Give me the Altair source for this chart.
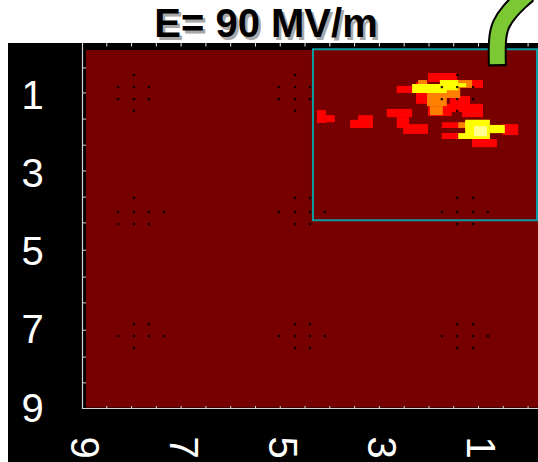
import altair as alt
import pandas as pd

# ---------------- data ----------------
title_text = "E= 90 MV/m"

x_label_values = [1, 3, 5, 7, 9]
y_label_values = [1, 3, 5, 7, 9]

x_minor_ticks = [0.0, 0.5, 1.0, 1.5, 2.0, 2.5, 3.0, 3.5, 4.0, 4.5,
                 5.0, 5.5, 6.0, 6.5, 7.0, 7.5, 8.0, 8.5]
y_minor_ticks = [0.26, 0.90, 1.57, 2.24, 2.90, 3.57, 4.23, 4.93,
                 5.62, 6.28, 6.98, 7.67, 8.33]

# extent of the image matrix (background value)
matrix_x = [8.92, -0.2]
matrix_y = [-0.2, 8.96]

# hot regions of the map: x1, x2, y1, y2, level (1 red, 2 orange, 3 yellow, 4 pale yellow)
blob_x1 = [2.02, 2.65, 2.26, 2.02, 1.58, 1.33, 1.17, 1.74, 1.74, 0.51, 1.13,
           4.26, 4.08, 3.43, 3.59, 2.85, 2.65, 2.52,
           2.22, 2.04, 1.98, 1.48, 1.68, 1.41,
           2.34, 1.78, 1.41, 1.27, 1.41, 0.77,
           1.09]
blob_x2 = [1.43, 2.34, 2.02, 1.54, 1.17, 0.91, 0.91, 1.41, 1.41, 0.20, 0.63,
           4.08, 3.90, 3.13, 3.13, 2.34, 2.40, 2.02,
           2.04, 1.64, 1.72, 1.13, 1.37, 1.25,
           1.64, 1.41, 1.25, 0.77, 1.25, 0.47,
           0.83]
blob_y1 = [0.39, 0.72, 0.62, 1.18, 0.98, 1.18, 0.57, 1.65, 1.93, 1.70, 2.08,
           1.34, 1.47, 1.47, 1.59, 1.31, 1.52, 1.70,
           0.57, 0.88, 1.24, 0.57, 0.77, 1.65,
           0.67, 0.57, 0.65, 1.59, 1.93, 1.72,
           1.75]
blob_y2 = [0.62, 0.90, 1.18, 1.49, 1.39, 1.52, 0.77, 1.80, 2.08, 1.98, 2.29,
           1.67, 1.65, 1.62, 1.80, 1.52, 1.80, 1.95,
           0.72, 1.24, 1.47, 0.77, 1.03, 1.80,
           0.90, 0.83, 0.75, 2.08, 2.08, 1.93,
           2.01]
blob_level = [1] * 18 + [2] * 6 + [3] * 6 + [4]

# marker dots (groups of cross-like patterns)
dot_col_groups = [[8.27, 7.95, 7.65, 7.35], [5.03, 4.70, 4.40, 4.10], [1.74, 1.43, 1.11, 0.81]]
dot_row_groups = [[0.44, 0.75, 1.06, 1.36], [3.59, 3.95, 4.26], [6.83, 7.13, 7.44]]
dot_patterns = [
    [[[1], [0, 1, 2], [0, 1, 2], [1]]] * 3,
    [[[1], [0, 1, 2, 3], [0, 1, 2]], [[1, 2], [0, 1, 2, 3], [1, 2]], [[1, 2], [0, 1, 2, 3], [1, 2]]],
    [[[1, 2], [0, 1, 2, 3], [1]], [[1, 2], [0, 1, 2, 3], [1, 2]], [[1, 2], [0, 1, 2, 3], [1, 2]]],
]

# zoom box
box_x = [4.34, -0.18]
box_y = [-0.22, 4.16]

# curved arrow (centre line)
arrow_x = [0.62, 0.63, 0.56, 0.38, 0.15, 0.00]
arrow_y = [0.16, -0.48, -0.87, -1.19, -1.48, -1.64]
arrow_outline_y = [0.22, -0.48, -0.87, -1.19, -1.48, -1.64]

# ---------------- tables ----------------
blobs = pd.DataFrame({"x1": blob_x1, "x2": blob_x2, "y1": blob_y1, "y2": blob_y2, "level": blob_level})
dots_rows = []
for rg, rows in enumerate(dot_row_groups):
    for cg, cols in enumerate(dot_col_groups):
        pat = dot_patterns[rg][cg]
        for ri, yv in enumerate(rows):
            for ci in pat[ri]:
                dots_rows.append({"x": cols[ci], "y": yv})
dots = pd.DataFrame(dots_rows)
matrix = pd.DataFrame({"x1": [matrix_x[0]], "x2": [matrix_x[1]], "y1": [matrix_y[0]], "y2": [matrix_y[1]]})
box = pd.DataFrame({"x1": [box_x[0]], "x2": [box_x[1]], "y1": [box_y[0]], "y2": [box_y[1]]})
arrow = pd.DataFrame({"i": list(range(len(arrow_x))), "x": arrow_x, "y": arrow_y})
arrow_o = pd.DataFrame({"i": list(range(len(arrow_x))), "x": arrow_x, "y": arrow_outline_y})
xt = pd.DataFrame({"x": x_minor_ticks})
yt = pd.DataFrame({"y": y_minor_ticks})
one = pd.DataFrame({"t": [title_text]})

# ---------------- scales / axes ----------------
FONT = "Liberation Sans"
xs = alt.Scale(domain=[-0.2, 9], reverse=True, nice=False, zero=False)
ys = alt.Scale(domain=[-0.2, 9], reverse=True, nice=False, zero=False)
xa = alt.Axis(values=x_label_values, labelAngle=90, labelAlign="left", labelBaseline="middle",
              labelPadding=27, labelFontSize=40, labelColor="white", labelFont=FONT,
              domain=False, ticks=False, tickSize=0, grid=False, title=None,
              labelFlush=False, labelOverlap=False, labelBound=False, zindex=1)
ya = alt.Axis(values=y_label_values, labelAlign="center", labelBaseline="middle",
              labelPadding=50, labelFontSize=40, labelColor="white", labelFont=FONT,
              domain=False, ticks=False, tickSize=0, grid=False, title=None,
              labelFlush=False, labelOverlap=False, labelBound=False, zindex=1)

def X(f):
    return alt.X(f, type="quantitative", scale=xs, axis=xa)

def Y(f):
    return alt.Y(f, type="quantitative", scale=ys, axis=ya)

W, H = 456, 359

black_bg = alt.Chart(one).mark_rect(color="black").encode(
    x=alt.value(-74), x2=alt.value(W), y=alt.value(-7), y2=alt.value(H + 53))

matrix_l = alt.Chart(matrix).mark_rect(color="#760000").encode(
    x=X("x1"), x2="x2", y=Y("y1"), y2="y2")

blob_l = alt.Chart(blobs).mark_rect().encode(
    x=X("x1"), x2="x2", y=Y("y1"), y2="y2",
    color=alt.Color("level:O", scale=alt.Scale(domain=[1, 2, 3, 4],
                    range=["#ff0000", "#ff8000", "#ffff00", "#ffff90"]), legend=None))

dot_l = alt.Chart(dots).mark_square(size=5, color="black", opacity=0.9).encode(
    x=X("x"), y=Y("y"))

box_l = alt.Chart(box).mark_rect(filled=False, stroke="#0a9ca2", strokeWidth=2).encode(
    x=X("x1"), x2="x2", y=Y("y1"), y2="y2")

axis_color = "#d4d4d4"
left_line = alt.Chart(one).mark_rule(color=axis_color, strokeWidth=1.2).encode(
    x=alt.value(0.5), y=alt.value(-7), y2=alt.value(H))
bottom_line = alt.Chart(one).mark_rule(color=axis_color, strokeWidth=1.2).encode(
    x=alt.value(0), x2=alt.value(W), y=alt.value(H - 0.5))

xt_bottom = alt.Chart(xt).mark_rule(color=axis_color, strokeWidth=1).encode(
    x=X("x"), y=alt.value(H - 3), y2=alt.value(H))
xt_top = alt.Chart(xt).mark_rule(color="#e8e8e8", strokeWidth=1).encode(
    x=X("x"), y=alt.value(-7), y2=alt.value(-3.5))
yt_left = alt.Chart(yt).mark_rule(color=axis_color, strokeWidth=1).encode(
    y=Y("y"), x=alt.value(1), x2=alt.value(4))

arrow_black = alt.Chart(arrow_o).mark_line(color="black", strokeWidth=19, strokeCap="butt",
                                           interpolate="basis").encode(
    x=X("x"), y=Y("y"), order="i:Q")
arrow_green = alt.Chart(arrow).mark_line(color="#7cc832", strokeWidth=15, strokeCap="butt",
                                         interpolate="basis").encode(
    x=X("x"), y=Y("y"), order="i:Q")

title_shadow = alt.Chart(one).mark_text(font=FONT, fontSize=40, fontWeight="bold", color="#a8a8a8",
                                        align="center", baseline="alphabetic").encode(
    x=alt.value(186.5), y=alt.value(-10.5), text="t:N")
title_l = alt.Chart(one).mark_text(font=FONT, fontSize=40, fontWeight="bold", color="black",
                                   align="center", baseline="alphabetic").encode(
    x=alt.value(184), y=alt.value(-13), text="t:N")

chart = alt.layer(
    black_bg, matrix_l, blob_l, dot_l, box_l, left_line, bottom_line,
    xt_bottom, xt_top, yt_left, arrow_black, arrow_green, title_shadow, title_l
).properties(
    width=W, height=H,
    padding={"left": 82, "top": 50, "right": 0, "bottom": 53},
    autosize=alt.AutoSizeParams(type="none"),
    background="white",
).configure_view(stroke=None)

chart.save("out.html", embed_options={"renderer": "svg", "actions": False})
